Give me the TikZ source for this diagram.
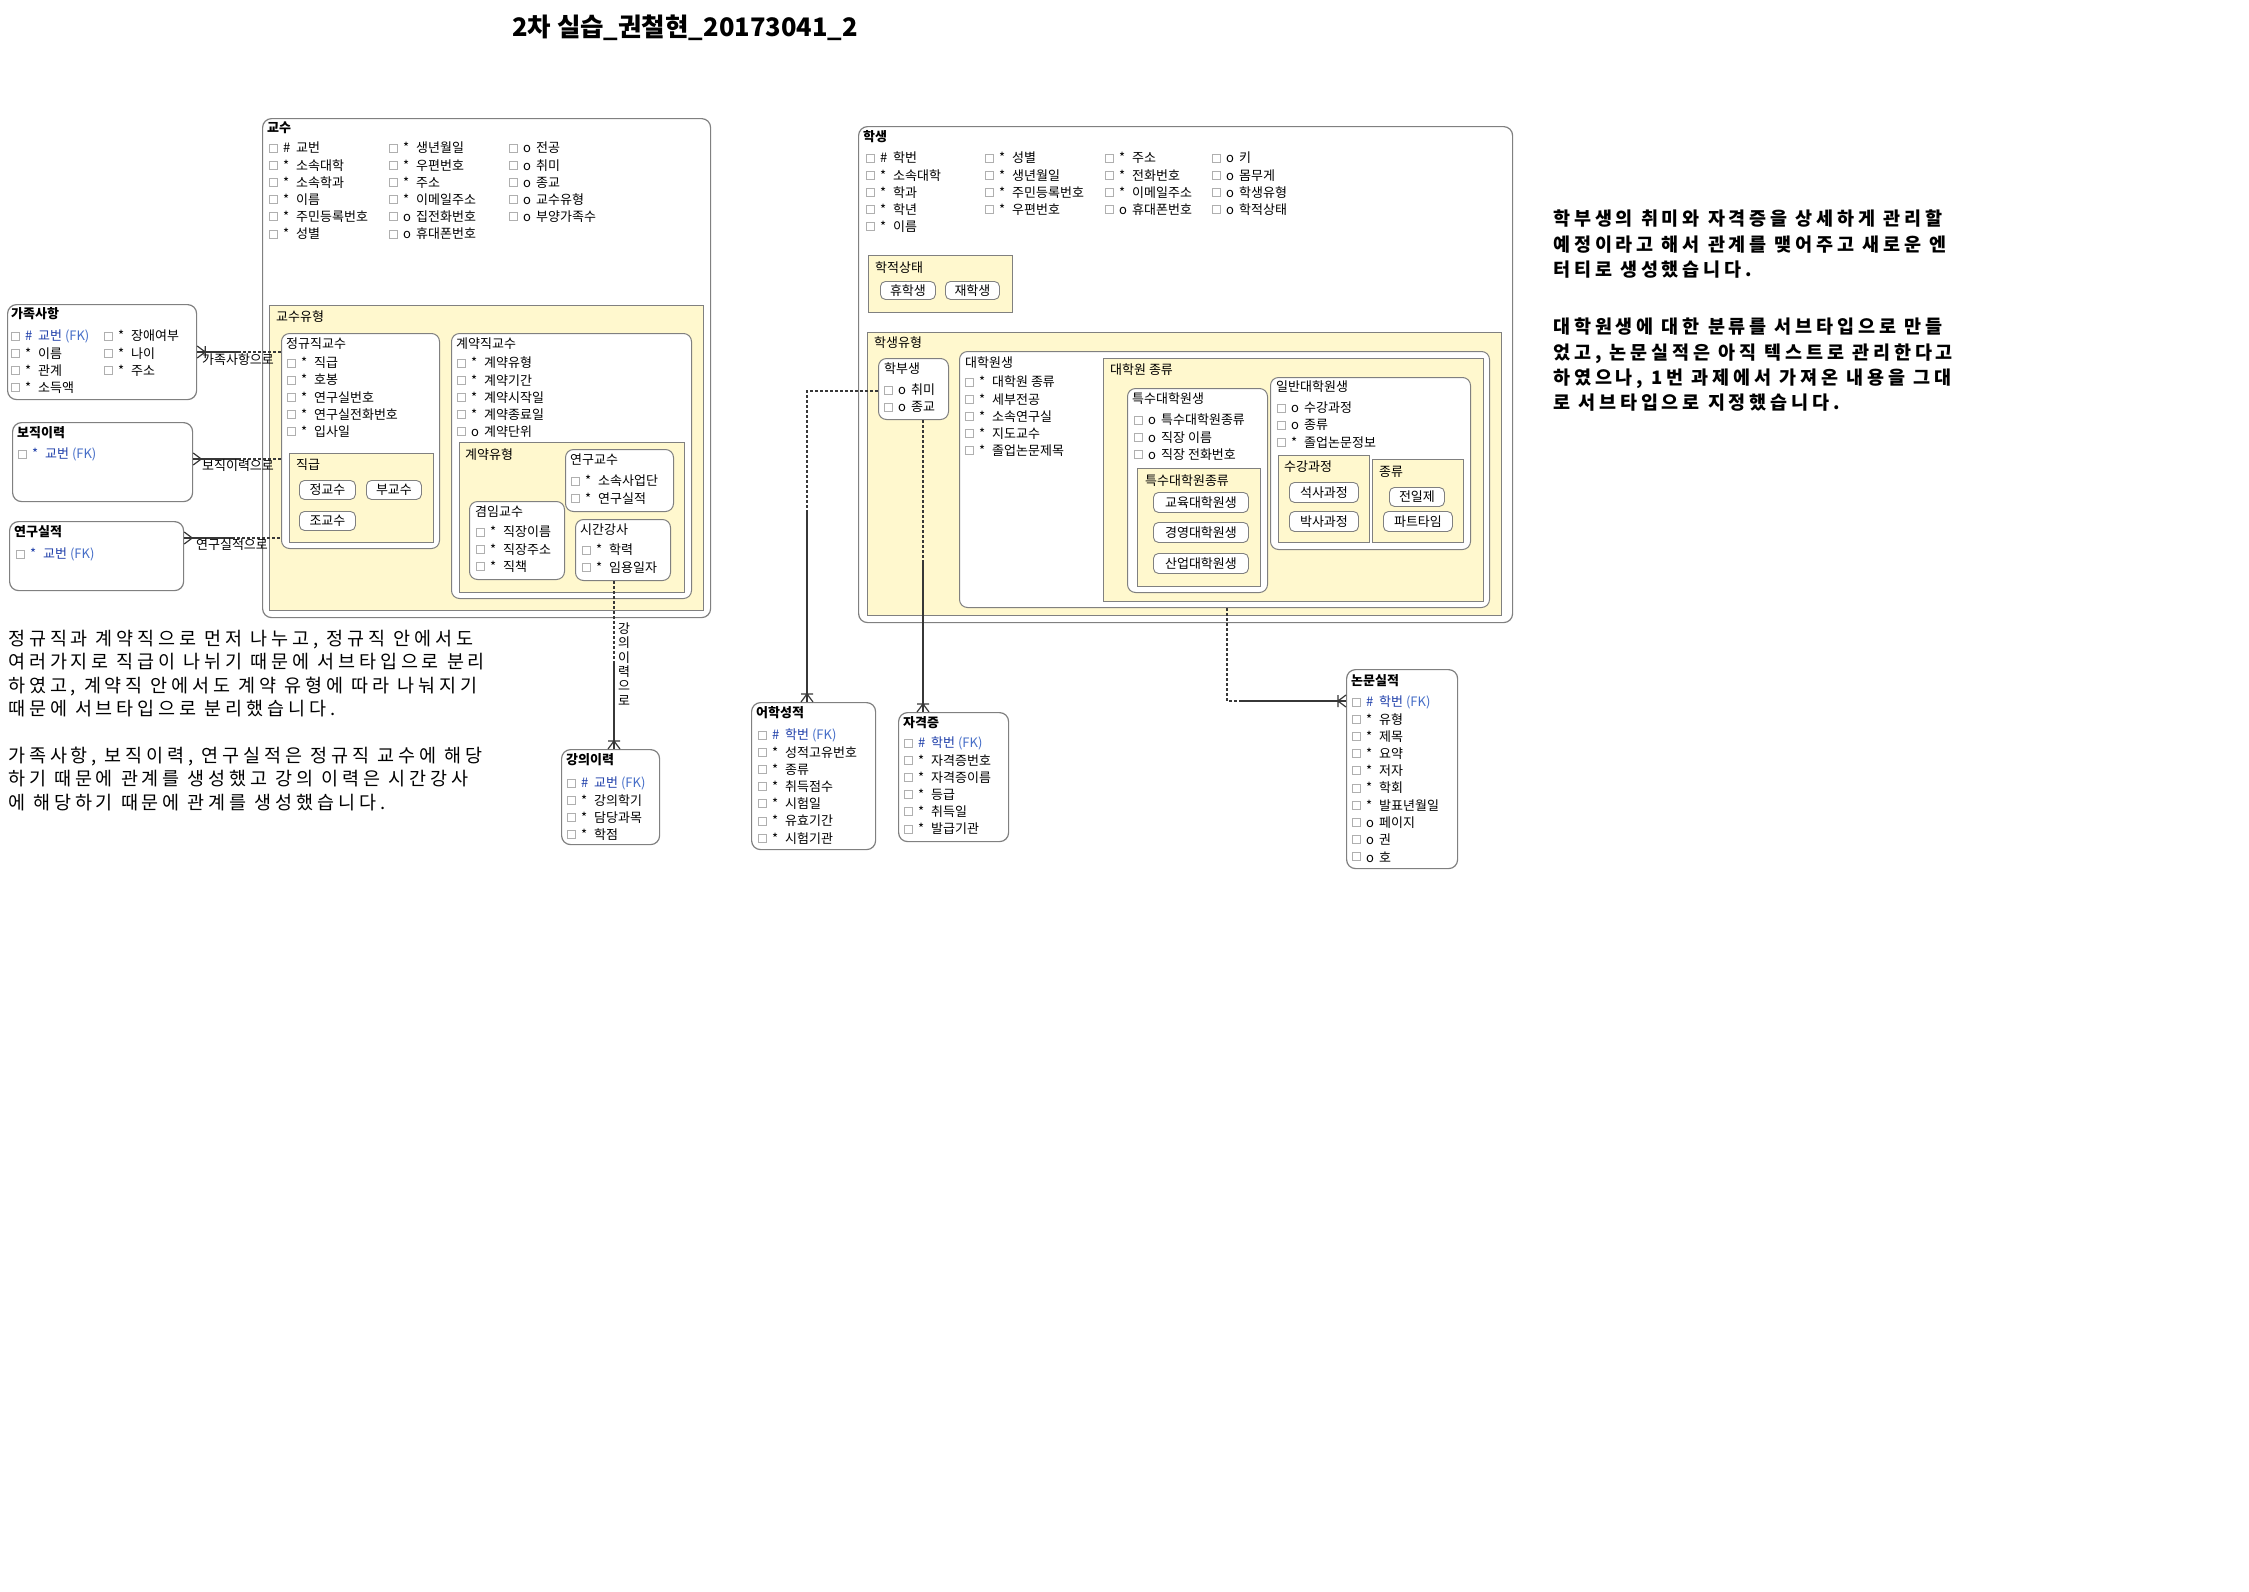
\documentclass[tikz,border=0pt]{standalone}
\usepackage{fontspec}
\setmainfont{Noto Sans CJK KR}
\newfontfamily\notefont[LetterSpace=21]{Noto Sans CJK KR}
\usetikzlibrary{positioning}

\definecolor{boxgray}  {RGB}{128,128,128}
\definecolor{chkgray}  {RGB}{175,175,175}
\definecolor{arcyellow}{RGB}{255,248,206}
\definecolor{fkblue}   {RGB}{ 32, 64,170}
\definecolor{fklight}  {RGB}{ 70,110,200}
\definecolor{relgray}  {RGB}{ 55, 55, 55}

\newcommand{\fsz}[1]{\fontsize{#1}{#1}\selectfont}
\newcommand{\fkm}[1]{\textcolor{fkblue}{#1}}
\newcommand{\fk}[1]{\textcolor{fkblue}{#1}~\textcolor{fklight}{(FK)}}

\tikzset{
  entity/.style    = {draw=boxgray, fill=white, line width=1.2pt, rounded corners=9pt,
                      inner sep=0pt, anchor=north west},
  subtype/.style   = {draw=boxgray, fill=white, line width=1pt, rounded corners=8pt,
                      inner sep=0pt, anchor=north west},
  arcbox/.style    = {draw=boxgray, fill=arcyellow, line width=1pt, inner sep=0pt,
                      anchor=north west},
  valbox/.style    = {draw=boxgray, fill=white, line width=0.9pt, rounded corners=5pt,
                      inner sep=0pt, anchor=north west, font=\fsz{13}},
  ent title/.style = {anchor=west, inner sep=0pt, font=\bfseries\fsz{13}},
  sub title/.style = {anchor=west, inner sep=0pt, font=\fsz{13}},
  chk/.style       = {draw=chkgray, fill=white, line width=0.8pt, minimum size=8pt, inner sep=0pt},
  attr/.style      = {anchor=west, inner sep=0pt, font=\fsz{13}},
  rel line/.style  = {draw=relgray, line width=1.2pt},
  rel solid/.style = {rel line},
  rel dashed/.style= {rel line, dash pattern=on 3pt off 2pt},
  rel label/.style = {inner sep=0pt, font=\fsz{13}},
  note/.style      = {anchor=north west, inner sep=0pt, align=left,
                      font=\notefont\fontsize{18.5}{23.3}\selectfont},
  crow/.pic        = {\draw[rel line] (0,-6) -- (8,0) -- (0,6);},
  crow bar/.pic    = {\draw[rel line] (0,-6) -- (8,0) -- (0,6) (8,-6) -- (8,6);},
}

% box from its corners: style, name, x1, y1, x2, y2
\newcommand{\erbox}[6]{%
  \node[#1, minimum width={(#5-#3)*1pt}, minimum height={(#6-#4)*1pt}] (#2) at (#3,#4) {};}
% value box: name, x1, y1, x2, y2, text
\newcommand{\erval}[6]{%
  \node[valbox, minimum width={(#4-#2)*1pt}, minimum height={(#5-#3)*1pt}] (#1) at (#2,#3) {#6};}
% attribute column: name, checkbox x, first row y, marker/text list
\newcommand{\erattrs}[4]{%
  \foreach \mk/\txt [count=\i] in {#4}{%
    \node[chk] (#1-c\i) at (#2, {#3+(\i-1)*17.2}) {};
    \node[attr] (#1-a\i) at ({#2+10}, {#3+(\i-1)*17.2}) {\makebox[13pt][l]{\mk}\txt};
  }}

\begin{document}
\begin{tikzpicture}[x=1pt, y=-1pt]
  \useasboundingbox (0,0) rectangle (2249,1591);

  \node[font=\bfseries\fsz{25.5}, inner sep=0pt] (title) at (685,28)
    {2차 실습\_권철현\_20173041\_2};

  % ── 교수 ───────────────────────────────────────────────────────────────
  \erbox{entity}{prof}{262}{118}{710}{617}
  \node[ent title] (prof-t) at (267,128) {교수};
  \erattrs{prof1}{273}{148}{\#/교번, */소속대학, */소속학과, */이름, */주민등록번호, */성별}
  \erattrs{prof2}{393}{148}{*/생년월일, */우편번호, */주소, */이메일주소, o/집전화번호, o/휴대폰번호}
  \erattrs{prof3}{513}{148}{o/전공, o/취미, o/종교, o/교수유형, o/부양가족수}

  \erbox{arcbox}{profType}{269}{305}{703}{610}
  \node[sub title] (profType-t) at (276,317) {교수유형};

  % 정규직교수 and its 직급
  \erbox{subtype}{regProf}{281}{333}{439}{548}
  \node[sub title] (regProf-t) at (286,344) {정규직교수};
  \erattrs{regProf}{291}{363}{*/직급, */호봉, */연구실번호, */연구실전화번호, */입사일}
  \erbox{arcbox}{rank}{289}{453}{433}{542}
  \node[sub title] (rank-t) at (296,465) {직급};
  \erval{rankFull}{299}{480}{355}{499}{정교수}
  \erval{rankAssoc}{366}{480}{421}{499}{부교수}
  \erval{rankAsst}{299}{511}{355}{530}{조교수}

  % 계약직교수 and its 계약유형
  \erbox{subtype}{conProf}{451}{333}{691}{598}
  \node[sub title] (conProf-t) at (456,344) {계약직교수};
  \erattrs{conProf}{461}{363}{*/계약유형, */계약기간, */계약시작일, */계약종료일, o/계약단위}
  \erbox{arcbox}{conType}{459}{442}{684}{592}
  \node[sub title] (conType-t) at (465,455) {계약유형};
  \erbox{subtype}{resProf}{565}{449}{673}{511}
  \node[sub title] (resProf-t) at (570,460) {연구교수};
  \erattrs{resProf}{575}{481}{*/소속사업단, */연구실적}
  \erbox{subtype}{adjProf}{469}{501}{564}{579}
  \node[sub title] (adjProf-t) at (475,512) {겸임교수};
  \erattrs{adjProf}{480}{532}{*/직장이름, */직장주소, */직책}
  \erbox{subtype}{partTime}{575}{519}{670}{580}
  \node[sub title] (partTime-t) at (580,530) {시간강사};
  \erattrs{partTime}{586}{550}{*/학력, */임용일자}

  % ── entities on the left ──────────────────────────────────────────────
  \erbox{entity}{fam}{7}{304}{196}{399}
  \node[ent title] (fam-t) at (11,314) {가족사항};
  \erattrs{fam1}{15}{336}{\fkm{\#}/\fk{교번}, */이름, */관계, */소득액}
  \erattrs{fam2}{108}{336}{*/장애여부, */나이, */주소}

  \erbox{entity}{post}{12}{422}{192}{501}
  \node[ent title] (post-t) at (17,433) {보직이력};
  \erattrs{post}{22}{454}{\fkm{*}/\fk{교번}}

  \erbox{entity}{resRec}{9}{521}{183}{590}
  \node[ent title] (resRec-t) at (14,532) {연구실적};
  \erattrs{resRec}{20}{554}{\fkm{*}/\fk{교번}}

  \coordinate (famMid) at (238,352);
  \draw[rel solid] (famMid -| fam.east) -- (famMid);
  \draw[rel dashed] (famMid) -- (famMid -| regProf.west);
  \pic at (famMid -| fam.east) {crow bar};
  \node[rel label, below=1pt of famMid] (famLbl) {가족사항으로};

  \coordinate (postMid) at (238,459);
  \draw[rel solid] (postMid -| post.east) -- (postMid);
  \draw[rel dashed] (postMid) -- (postMid -| regProf.west);
  \pic at (postMid -| post.east) {crow};
  \node[rel label, below=1pt of postMid] (postLbl) {보직이력으로};

  \coordinate (resMid) at (232,538);
  \draw[rel solid] (resMid -| resRec.east) -- (resMid);
  \draw[rel dashed] (resMid) -- (resMid -| regProf.west);
  \pic at (resMid -| resRec.east) {crow};
  \node[rel label, below=1pt of resMid] (resLbl) {연구실적으로};

  % ── 강의이력 ──────────────────────────────────────────────────────────
  \erbox{entity}{lect}{561}{749}{659}{844}
  \node[ent title] (lect-t) at (566,760) {강의이력};
  \erattrs{lect}{571}{783}{\fkm{\#}/\fk{교번}, */강의학기, */담당과목, */학점}

  \coordinate (lectMid) at (614,663);
  \draw[rel dashed] (lectMid |- partTime.south) -- (lectMid);
  \draw[rel solid] (lectMid) -- (lectMid |- lect.north);
  \pic[rotate=90] at (lectMid |- lect.north) {crow bar};
  \node[rel label, align=center, font=\fontsize{13}{14.4}\selectfont] (lectLbl) at (624,664)
    {강\\의\\이\\력\\으\\로};

  % ── 학생 ───────────────────────────────────────────────────────────────
  \erbox{entity}{stud}{858}{126}{1512}{622}
  \node[ent title] (stud-t) at (863,137) {학생};
  \erattrs{stud1}{870}{158}{\#/학번, */소속대학, */학과, */학년, */이름}
  \erattrs{stud2}{989}{158}{*/성별, */생년월일, */주민등록번호, */우편번호}
  \erattrs{stud3}{1109}{158}{*/주소, */전화번호, */이메일주소, o/휴대폰번호}
  \erattrs{stud4}{1216}{158}{o/키, o/몸무게, o/학생유형, o/학적상태}

  \erbox{arcbox}{enroll}{868}{255}{1012}{312}
  \node[sub title] (enroll-t) at (875,268) {학적상태};
  \erval{leave}{880}{281}{935}{299}{휴학생}
  \erval{attend}{945}{281}{999}{299}{재학생}

  \erbox{arcbox}{studType}{867}{332}{1501}{615}
  \node[sub title] (studType-t) at (874,343) {학생유형};

  % 학부생
  \erbox{subtype}{under}{878}{358}{948}{419}
  \node[sub title] (under-t) at (884,369) {학부생};
  \erattrs{under}{888}{390}{o/취미, o/종교}

  % 대학원생 and its 대학원 종류
  \erbox{subtype}{grad}{959}{351}{1489}{607}
  \node[sub title] (grad-t) at (965,363) {대학원생};
  \erattrs{grad}{969}{382}{*/대학원 종류, */세부전공, */소속연구실, */지도교수, */졸업논문제목}
  \erbox{arcbox}{gradKind}{1103}{358}{1483}{601}
  \node[sub title] (gradKind-t) at (1110,370) {대학원 종류};

  \erbox{subtype}{special}{1127}{388}{1267}{592}
  \node[sub title] (special-t) at (1132,399) {특수대학원생};
  \erattrs{special}{1138}{420}{o/특수대학원종류, o/직장 이름, o/직장 전화번호}
  \erbox{arcbox}{specKind}{1137}{468}{1260}{586}
  \node[sub title] (specKind-t) at (1145,481) {특수대학원종류};
  \erval{specEdu}{1153}{492}{1248}{512}{교육대학원생}
  \erval{specBiz}{1153}{522}{1248}{542}{경영대학원생}
  \erval{specInd}{1153}{553}{1248}{573}{산업대학원생}

  \erbox{subtype}{general}{1270}{377}{1470}{549}
  \node[sub title] (general-t) at (1276,387) {일반대학원생};
  \erattrs{general}{1281}{408}{o/수강과정, o/종류, */졸업논문정보}
  \erbox{arcbox}{course}{1278}{455}{1369}{542}
  \node[sub title] (course-t) at (1284,467) {수강과정};
  \erval{master}{1289}{482}{1358}{502}{석사과정}
  \erval{doctor}{1289}{511}{1358}{531}{박사과정}
  \erbox{arcbox}{mode}{1372}{459}{1463}{542}
  \node[sub title] (mode-t) at (1379,472) {종류};
  \erval{fullTm}{1389}{487}{1444}{506}{전일제}
  \erval{partTm}{1383}{511}{1452}{531}{파트타임}

  % ── entities under 학생 ────────────────────────────────────────────────
  \erbox{entity}{lang}{751}{702}{875}{849}
  \node[ent title] (lang-t) at (756,713) {어학성적};
  \erattrs{lang}{762}{735}{\fkm{\#}/\fk{학번}, */성적고유번호, */종류, */취득점수, */시험일, */유효기간, */시험기관}

  \erbox{entity}{cert}{898}{712}{1008}{841}
  \node[ent title] (cert-t) at (903,723) {자격증};
  \erattrs{cert}{908}{743}{\fkm{\#}/\fk{학번}, */자격증번호, */자격증이름, */등급, */취득일, */발급기관}

  \erbox{entity}{paper}{1346}{669}{1457}{868}
  \node[ent title] (paper-t) at (1351,681) {논문실적};
  \erattrs{paper}{1356}{702}{\fkm{\#}/\fk{학번}, */유형, */제목, */요약, */저자, */학회, */발표년월일, o/페이지, o/권, o/호}

  \coordinate (langBend) at (807,391);
  \coordinate (langMid) at (807,512);
  \draw[rel dashed] (langBend -| under.west) -- (langBend) -- (langMid);
  \draw[rel solid] (langMid) -- (langMid |- lang.north);
  \pic[rotate=90] at (langMid |- lang.north) {crow bar};

  \coordinate (certMid) at (923,563);
  \draw[rel dashed] (certMid |- under.south) -- (certMid);
  \draw[rel solid] (certMid) -- (certMid |- cert.north);
  \pic[rotate=90] at (certMid |- cert.north) {crow bar};

  \coordinate (paperBend) at (1227,701);
  \coordinate (paperMid) at (1240,701);
  \draw[rel dashed] (paperBend |- grad.south) -- (paperBend) -- (paperMid);
  \draw[rel solid] (paperMid) -- (paperMid -| paper.west);
  \pic[rotate=180] at (paperMid -| paper.west) {crow bar};

  % ── notes ─────────────────────────────────────────────────────────────
  \node[note] (noteLeftA) at (8,630)
    {정규직과 계약직으로 먼저 나누고, 정규직 안에서도\\
     여러가지로 직급이 나뉘기 때문에 서브타입으로 분리\\
     하였고, 계약직 안에서도 계약 유형에 따라 나눠지기\\
     때문에 서브타입으로 분리했습니다.};
  \node[note] (noteLeftB) at (8,747)
    {가족사항, 보직이력, 연구실적은 정규직 교수에 해당\\
     하기 때문에 관계를 생성했고 강의 이력은 시간강사\\
     에 해당하기 때문에 관계를 생성했습니다.};

  \node[note, font=\notefont\bfseries\fontsize{18.5}{25.3}\selectfont] (noteRightA) at (1553,210)
    {학부생의 취미와 자격증을 상세하게 관리할\\
     예정이라고 해서 관계를 맺어주고 새로운 엔\\
     터티로 생성했습니다.};
  \node[note, font=\notefont\bfseries\fontsize{18.5}{25.3}\selectfont] (noteRightB) at (1553,318)
    {대학원생에 대한 분류를 서브타입으로 만들\\
     었고, 논문실적은 아직 텍스트로 관리한다고\\
     하였으나, 1번 과제에서 가져온 내용을 그대\\
     로 서브타입으로 지정했습니다.};

\end{tikzpicture}
\end{document}
